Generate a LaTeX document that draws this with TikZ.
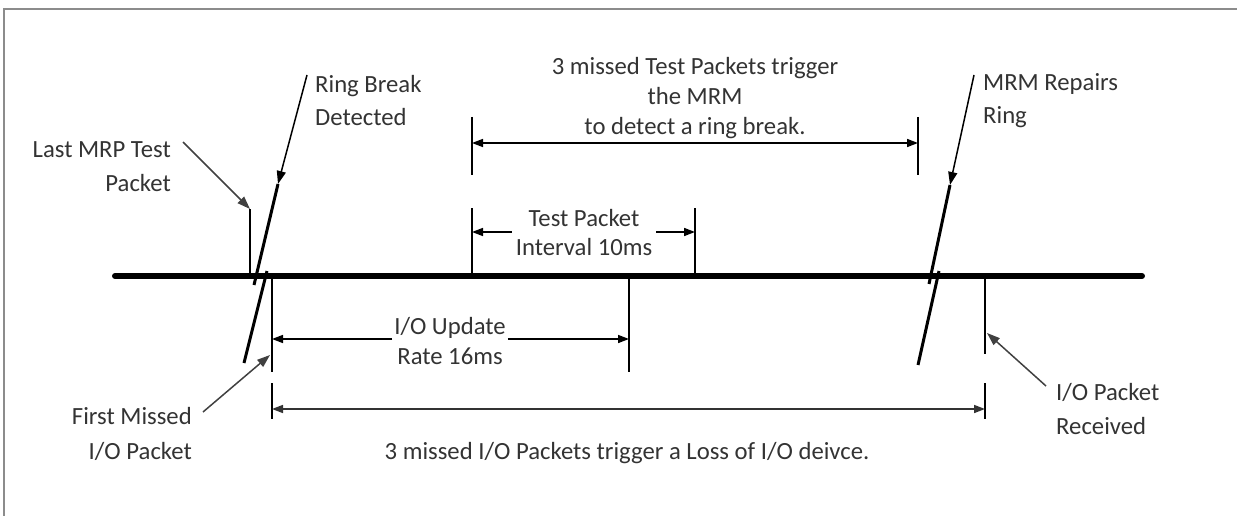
\documentclass[tikz,border=0pt]{standalone}
\usepackage{fontspec}
\setmainfont{Carlito}
\usetikzlibrary{arrows.meta}
\definecolor{txt}{HTML}{333333}
\tikzset{
  lbl/.style={inner sep=0pt, text=txt, font=\fontsize{24.7}{33}\selectfont},
  tip/.style={-{Triangle[length=11pt,width=8pt]}},
  tick/.style={line width=1.8pt},
  dim/.style={line width=1.6pt},
  ptr/.style={line width=1.5pt, draw=black!75, -{Triangle[length=13pt,width=9pt]}},
}
\begin{document}
\begin{tikzpicture}[x=1pt,y=-1pt]
\useasboundingbox (0,0) rectangle (1237,516);
% frame (cropped)
\draw[line width=2pt, draw=black!45] (4,520) -- (4,9) -- (1240,9);
% timeline
\coordinate (tl0) at (115,276);
\coordinate (tl1) at (1142,276);
\draw[line width=6pt, line cap=round] (tl0) -- (tl1);

% Last MRP test packet
\coordinate (lmA) at (250,276);
\coordinate (lmB) at (250,209);
\draw[tick] (lmA) -- (lmB);
\node[lbl, align=right, anchor=east, font=\fontsize{24.7}{34}\selectfont] (lastmrp) at (171,167) {Last MRP Test\\Packet};
\coordinate (lmS) at (183,142);
\draw[ptr] (lmS) -- (lmB);

% Ring break detected
\coordinate (rbS) at (307,75);
\coordinate (rbM) at (278,184);
\coordinate (rbE) at (254,285);
\coordinate (rb2a) at (267,271);
\coordinate (rb2b) at (244,363);
\draw[line width=1.5pt, -{Triangle[length=13pt,width=9pt]}] (rbS) -- (rbM);
\draw[line width=3pt] (rbM) -- (rbE);
\draw[line width=3pt] (rb2a) -- (rb2b);
\node[lbl, align=left, anchor=west] (ringbreak) at (315,101) {Ring Break\\Detected};

% MRM repairs ring
\coordinate (mrS) at (974,75);
\coordinate (mrM) at (950,185);
\coordinate (mrE) at (929,284);
\coordinate (mr2a) at (939,271);
\coordinate (mr2b) at (918,365);
\draw[line width=1.5pt, -{Triangle[length=13pt,width=9pt]}] (mrS) -- (mrM);
\draw[line width=3pt] (mrM) -- (mrE);
\draw[line width=3pt] (mr2a) -- (mr2b);
\node[lbl, align=left, anchor=west] (mrm) at (983,101) {MRM Repairs\\Ring};

% 3 missed test packets
\coordinate (t1a) at (472,117); \coordinate (t1b) at (472,175);
\coordinate (t2a) at (918,117); \coordinate (t2b) at (918,175);
\draw[tick] (t1a) -- (t1b);
\draw[tick] (t2a) -- (t2b);
\coordinate (d1a) at (472,143); \coordinate (d1b) at (918,143);
\draw[dim, {Triangle[length=11pt,width=8pt]}-{Triangle[length=11pt,width=8pt]}] (d1a) -- (d1b);
\node[lbl, align=center, font=\fontsize{24.7}{30}\selectfont] (miss3) at (695,98) {3 missed Test Packets trigger\\the MRM\\to detect a ring break.};

% Test packet interval
\coordinate (ti1a) at (472,208); \coordinate (ti1b) at (472,276);
\coordinate (ti2a) at (695,208); \coordinate (ti2b) at (695,276);
\draw[tick] (ti1a) -- (ti1b);
\draw[tick] (ti2a) -- (ti2b);
\node[lbl, align=center, font=\fontsize{24.7}{29}\selectfont] (tpi) at (584,233) {Test Packet\\Interval 10ms};
\coordinate (ti1m) at (472,232); \coordinate (ti2m) at (695,232);
\draw[dim, tip] (tpi.west |- ti1m) ++(-4,0) -- (ti1m);
\draw[dim, tip] (tpi.east |- ti2m) ++(4,0) -- (ti2m);

% I/O update rate
\coordinate (u1a) at (272,279); \coordinate (u1b) at (272,372);
\coordinate (u2a) at (629,279); \coordinate (u2b) at (629,372);
\draw[tick] (u1a) -- (u1b);
\draw[tick] (u2a) -- (u2b);
\node[lbl, align=center, font=\fontsize{24.7}{30}\selectfont] (iou) at (450,341) {I/O Update\\Rate 16ms};
\coordinate (u1m) at (272,339); \coordinate (u2m) at (629,339);
\draw[dim, tip] (iou.west |- u1m) ++(-2,0) -- (u1m);
\draw[dim, tip] (iou.east |- u2m) ++(2,0) -- (u2m);

% 3 missed I/O packets
\coordinate (v1a) at (272,383); \coordinate (v1b) at (272,419);
\coordinate (v2a) at (985,383); \coordinate (v2b) at (985,419);
\coordinate (r1a) at (985,279); \coordinate (r1b) at (985,354);
\draw[tick] (v1a) -- (v1b);
\draw[tick] (v2a) -- (v2b);
\draw[tick] (r1a) -- (r1b);
\coordinate (v1m) at (272,409); \coordinate (v2m) at (985,409);
\draw[dim, draw=black!80, {Triangle[length=11pt,width=8pt]}-{Triangle[length=11pt,width=8pt]}] (v1m) -- (v2m);
\node[lbl] (lossio) at (627,453) {3 missed I/O Packets trigger a Loss of I/O deivce.};

% First missed I/O packet
\node[lbl, align=right, anchor=east, font=\fontsize{24.7}{35}\selectfont] (firstmiss) at (192,434) {First Missed\\I/O Packet};
\coordinate (fmS) at (203,412);
\coordinate (fmE) at (270,355);
\draw[ptr] (fmS) -- (fmE);

% I/O packet received
\node[lbl, align=left, anchor=west, font=\fontsize{24.7}{34}\selectfont] (iorec) at (1056,409) {I/O Packet\\Received};
\coordinate (irS) at (1046,386);
\coordinate (irE) at (987,333);
\draw[ptr] (irS) -- (irE);
\end{tikzpicture}
\end{document}
